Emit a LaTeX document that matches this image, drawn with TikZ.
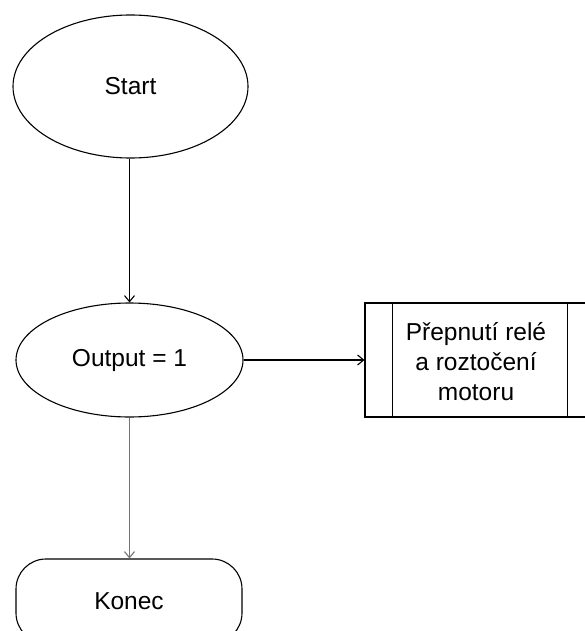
\documentclass[tikz,border=0pt]{standalone}
\usepackage{fontspec}
\setmainfont{Liberation Sans}
\usetikzlibrary{shapes.geometric,arrows.meta}
\begin{document}
\begin{tikzpicture}[x=1pt,y=-1pt,
  every node/.style={font=\fontsize{24.5}{30}\selectfont, text=black},
  shapeline/.style={draw=black, line width=1.1pt},
  oval/.style={shapeline, ellipse, inner sep=0pt},
  conn/.style={line width=1.1pt, -{Straight Barb[length=6pt,width=10pt]}}]
\clip (0,0) rectangle (585,631);
\fill[white] (0,0) rectangle (585,631);
\node[oval, minimum width=235, minimum height=143] (start) at (130.5,86.5) {Start};
\node[oval, minimum width=227, minimum height=114] (out) at (129.5,360) {Output = 1};
\node[shapeline, rectangle, minimum width=230, minimum height=114, inner sep=0pt] (proc) at (480,360) {};
\node[align=center, inner sep=0pt] (proctext) at (476,362) {Přepnutí relé\\a roztočení\\motoru};
\draw[shapeline] ([xshift=28]proc.north west) -- ([xshift=28]proc.south west);
\draw[shapeline] ([xshift=-28]proc.north east) -- ([xshift=-28]proc.south east);
\node[shapeline, rectangle, rounded corners=30, minimum width=226, minimum height=84, inner sep=0pt] (konec) at (129,601) {Konec};
\draw[conn] (out.north |- start.south) -- (out.north);
\draw[conn] (out.east) -- (proc.west);
\draw[conn, draw=gray!80!black!90] (out.south) -- (out.south |- konec.north);
\end{tikzpicture}
\end{document}
